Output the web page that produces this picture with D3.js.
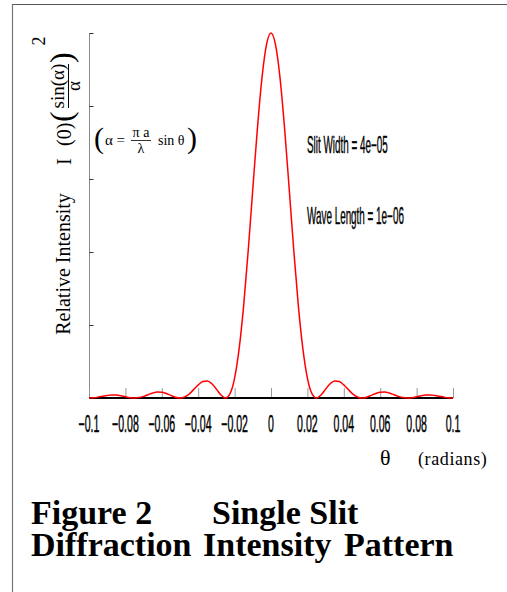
<!DOCTYPE html>
<html><head><meta charset="utf-8">
<script src="https://cdn.jsdelivr.net/npm/d3@7"></script>
<style>html,body{margin:0;padding:0;background:#fff;}svg{display:block;}</style>
</head><body>
<script>
// ---- data ----
const theta = [-0.1,-0.0975,-0.095,-0.0925,-0.09,-0.0875,-0.085,-0.0825,-0.08,-0.0775,-0.075,-0.0725,-0.07,-0.0675,-0.065,-0.0625,-0.06,-0.0575,-0.055,-0.0525,-0.05,-0.0475,-0.045,-0.0425,-0.04,-0.0375,-0.035,-0.0325,-0.03,-0.0275,-0.025,-0.0225,-0.02,-0.0175,-0.015,-0.0125,-0.01,-0.0075,-0.005,-0.0025,0,0.0025,0.005,0.0075,0.01,0.0125,0.015,0.0175,0.02,0.0225,0.025,0.0275,0.03,0.0325,0.035,0.0375,0.04,0.0425,0.045,0.0475,0.05,0.0525,0.055,0.0575,0.06,0.0625,0.065,0.0675,0.07,0.0725,0.075,0.0775,0.08,0.0825,0.085,0.0875,0.09,0.0925,0.095,0.0975,0.1];
const intensity = [0,0.0006,0.0024,0.0048,0.0071,0.0083,0.0079,0.0061,0.0034,0.0010,0,0.0012,0.0045,0.0091,0.0136,0.0162,0.0159,0.0125,0.0072,0.0022,0,0.0027,0.0108,0.0230,0.0358,0.0450,0.0468,0.0392,0.0243,0.0080,0,0.0119,0.0547,0.1353,0.2546,0.4053,0.5728,0.7368,0.8751,0.9675,1,0.9675,0.8751,0.7368,0.5728,0.4053,0.2546,0.1353,0.0547,0.0119,0,0.0080,0.0243,0.0392,0.0468,0.0450,0.0358,0.0230,0.0108,0.0027,0,0.0022,0.0072,0.0125,0.0159,0.0162,0.0136,0.0091,0.0045,0.0012,0,0.0010,0.0034,0.0061,0.0079,0.0083,0.0071,0.0048,0.0024,0.0006,0];
const xTicks = [-0.1,-0.08,-0.06,-0.04,-0.02,0,0.02,0.04,0.06,0.08,0.1];
const xTickLabels = ["\u22120.1","\u22120.08","\u22120.06","\u22120.04","\u22120.02","0","0.02","0.04","0.06","0.08","0.1"];
const yTicks = [0,0.2,0.4,0.6,0.8,1];
const slitText = "Slit Width = 4e\u221205";
const waveText = "Wave Length = 1e\u221206";
const titleLine1 = ["Figure 2", "Single Slit"];
const titleLine2 = ["Diffraction", "Intensity", "Pattern"];

const W = 507, H = 592;
const svg = d3.select("body").append("svg").attr("width", W).attr("height", H);
const sans = "Liberation Sans, Arial, sans-serif";
const serif = "Liberation Serif, Times New Roman, serif";

// frame
svg.append("line").attr("x1",12).attr("x2",W).attr("y1",4.5).attr("y2",4.5).attr("stroke","#555").attr("stroke-width",1.2);
svg.append("line").attr("x1",12.5).attr("x2",12.5).attr("y1",4).attr("y2",H).attr("stroke","#777").attr("stroke-width",1.2);

const x = d3.scaleLinear().domain([-0.1,0.1]).range([89,453]);
const y = d3.scaleLinear().domain([0,1]).range([398,33]);

// y axis
const yAxis = d3.axisRight(y).tickValues(yTicks).tickSize(4).tickFormat("");
const gy = svg.append("g").attr("transform","translate(89,0)").call(yAxis);
gy.select(".domain").attr("stroke","#888").attr("d","M0.5,33V398");
gy.selectAll(".tick line").attr("stroke","#333").attr("transform","translate(0.5,0)");

// x ticks (upward, grey)
const xAxis = d3.axisTop(x).tickValues(xTicks).tickSize(10).tickFormat("");
const gx = svg.append("g").attr("transform","translate(0,398)").call(xAxis);
gx.select(".domain").remove();
gx.selectAll(".tick line").attr("stroke","#999");
svg.append("line").attr("x1",x(-0.1)).attr("x2",x(0.1)).attr("y1",398).attr("y2",398).attr("stroke","#000").attr("stroke-width",2);

// tick labels (condensed)
svg.append("g").selectAll("text").data(xTicks).join("text")
  .attr("transform",(d)=>`translate(${x(d)},432) scale(0.46,1)`)
  .attr("text-anchor","middle")
  .attr("font-family",sans).attr("font-size",23)
  .attr("fill","#000").attr("stroke","#000").attr("stroke-width",0.5)
  .text((d,i)=>xTickLabels[i]);

// curve
const line = d3.line().x((d,i)=>x(theta[i])).y((d)=>y(d)).curve(d3.curveMonotoneX);
svg.append("path").attr("d", line(intensity)).attr("fill","none").attr("stroke","#ff0000").attr("stroke-width",1.5);

// annotations (condensed)
svg.append("text").attr("transform","translate(307,153) scale(0.43,1)")
  .attr("font-family",sans).attr("font-size",23).attr("stroke","#000").attr("stroke-width",0.4).text(slitText);
svg.append("text").attr("transform","translate(307,224) scale(0.43,1)")
  .attr("font-family",sans).attr("font-size",23).attr("stroke","#000").attr("stroke-width",0.4).text(waveText);

// axis labels
svg.append("text").attr("x",380).attr("y",465).attr("font-family",serif).attr("font-size",22).text("\u03b8");
svg.append("text").attr("x",418).attr("y",465).attr("font-family",serif).attr("font-size",18).attr("letter-spacing",0.6).text("(radians)");

svg.append("text").attr("transform","translate(70,264) rotate(-90)").attr("text-anchor","middle")
  .attr("font-family",serif).attr("font-size",20).text("Relative Intensity");

// rotated formula I(0) (sin(α)/α)^2
function rtext(sx, sy, txt, size, anchor) {
  svg.append("text").attr("transform",`translate(${sx},${sy}) rotate(-90)`)
    .attr("text-anchor",anchor||"start").attr("font-family",serif).attr("font-size",size).text(txt);
}
rtext(71,165,"I",20);
rtext(71,146,"(0)",20);
rtext(72,122,"(",32);
rtext(72,63,")",32);
rtext(64,86,"sin(\u03b1)",19,"middle");
svg.append("line").attr("x1",68.5).attr("x2",68.5).attr("y1",64).attr("y2",108).attr("stroke","#000").attr("stroke-width",1);
rtext(80,86,"\u03b1",19,"middle");
rtext(45,41,"2",18,"middle");

// horizontal alpha definition
const t = (x0,y0,txt,size,anchor)=>svg.append("text").attr("x",x0).attr("y",y0).attr("text-anchor",anchor||"start")
  .attr("font-family",serif).attr("font-size",size).text(txt);
t(94,148,"(",30);
t(105,145,"\u03b1 =",15);
t(141,137,"\u03c0  a",14,"middle");
svg.append("line").attr("x1",131).attr("x2",151).attr("y1",140.5).attr("y2",140.5).attr("stroke","#000").attr("stroke-width",0.8);
t(141,153,"\u03bb",14,"middle");
t(158,145,"sin  \u03b8",14);
t(187,148,")",30);

// title
const tb = (x0,y0,txt)=>svg.append("text").attr("x",x0).attr("y",y0).attr("font-family",serif)
  .attr("font-weight","bold").attr("font-size",34).text(txt);
tb(31,524,titleLine1[0]);
tb(212,524,titleLine1[1]);
tb(31,556,titleLine2[0]);
tb(203,556,titleLine2[1]);
tb(344,556,titleLine2[2]);
</script>
</body></html>
